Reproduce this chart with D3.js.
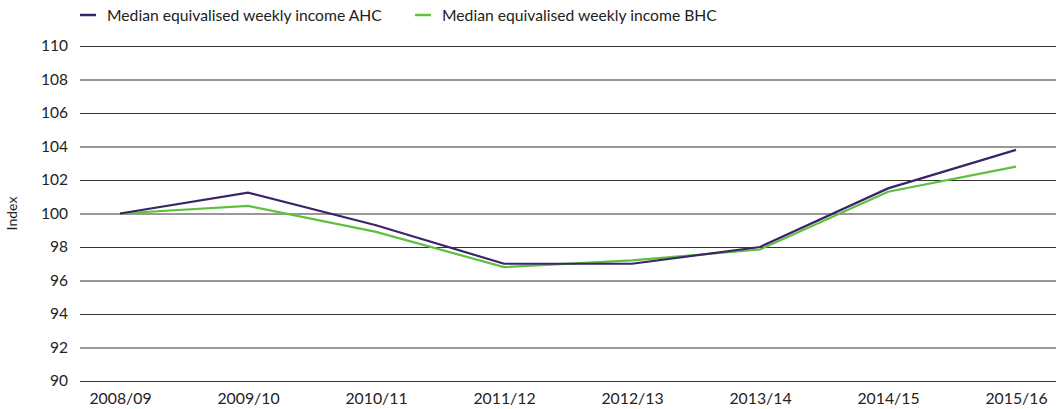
<!DOCTYPE html>
<html>
<head>
<meta charset="utf-8">
<script src="https://cdn.jsdelivr.net/npm/d3@7"></script>
<style>
  body { margin: 0; background: #fff; }
  text { font-family: Lato, "Open Sans", sans-serif; fill: #222; }
</style>
</head>
<body>
<svg id="chart" width="1056" height="409"></svg>
<script>
const years = ['2008/09', '2009/10', '2010/11', '2011/12', '2012/13', '2013/14', '2014/15', '2015/16']
const ahc = [100, 101.25, 99.3, 97.0, 97.0, 98.0, 101.5, 103.8]
const bhc = [100, 100.45, 98.9, 96.8, 97.2, 97.85, 101.3, 102.8]
const yTicks = [90, 92, 94, 96, 98, 100, 102, 104, 106, 108, 110]

const seriesList = [
  { name: 'Median equivalised weekly income AHC', values: ahc, color: '#3b2468' },
  { name: 'Median equivalised weekly income BHC', values: bhc, color: '#5cc23d' }
]

const svg = d3.select('#chart')
const gridLeft = 80
const gridRight = 1056

const x = d3.scalePoint().domain(years).range([120, 1016])
const y = d3.scaleLinear().domain([90, 110]).range([381, 46])

// gridlines
const yAxis = d3.axisLeft(y).tickValues(yTicks).tickSize(-(gridRight - gridLeft)).tickPadding(12)
const gy = svg.append('g').attr('transform', 'translate(' + gridLeft + ',0)').call(yAxis)
gy.select('.domain').remove()
gy.selectAll('.tick line').attr('stroke', '#333').attr('stroke-width', 1)
gy.selectAll('.tick text').attr('font-size', 15.5).attr('fill', '#222')
  .style('font-family', 'Lato, "Open Sans", sans-serif')

// x labels
const xAxis = d3.axisBottom(x).tickSize(0).tickPadding(10)
const gx = svg.append('g').attr('transform', 'translate(0,383)').call(xAxis)
gx.select('.domain').remove()
gx.selectAll('.tick text').attr('font-size', 15.8).attr('fill', '#222')
  .style('font-family', 'Lato, "Open Sans", sans-serif')

// y axis title
svg.append('text')
  .attr('transform', 'translate(17,' + y(100) + ')rotate(-90)')
  .attr('text-anchor', 'middle')
  .attr('font-size', 14)
  .text('Index')

const line = d3.line()
  .x((d, i) => x(years[i]))
  .y(d => y(d))

// BHC drawn first so AHC sits on top
seriesList.slice().reverse().forEach(function (s) {
  svg.append('path')
    .datum(s.values)
    .attr('d', line)
    .attr('fill', 'none')
    .attr('stroke', s.color)
    .attr('stroke-width', 2.2)
})

// legend
const legendX = [80, 415]
seriesList.forEach(function (s, i) {
  const g = svg.append('g').attr('transform', 'translate(' + legendX[i] + ',15)')
  g.append('line').attr('x1', 0).attr('x2', 16).attr('y1', 0).attr('y2', 0)
    .attr('stroke', s.color).attr('stroke-width', 2.5)
  g.append('text').attr('x', 27).attr('y', 5.5).attr('font-size', 15.7).text(s.name)
})
</script>
</body>
</html>
